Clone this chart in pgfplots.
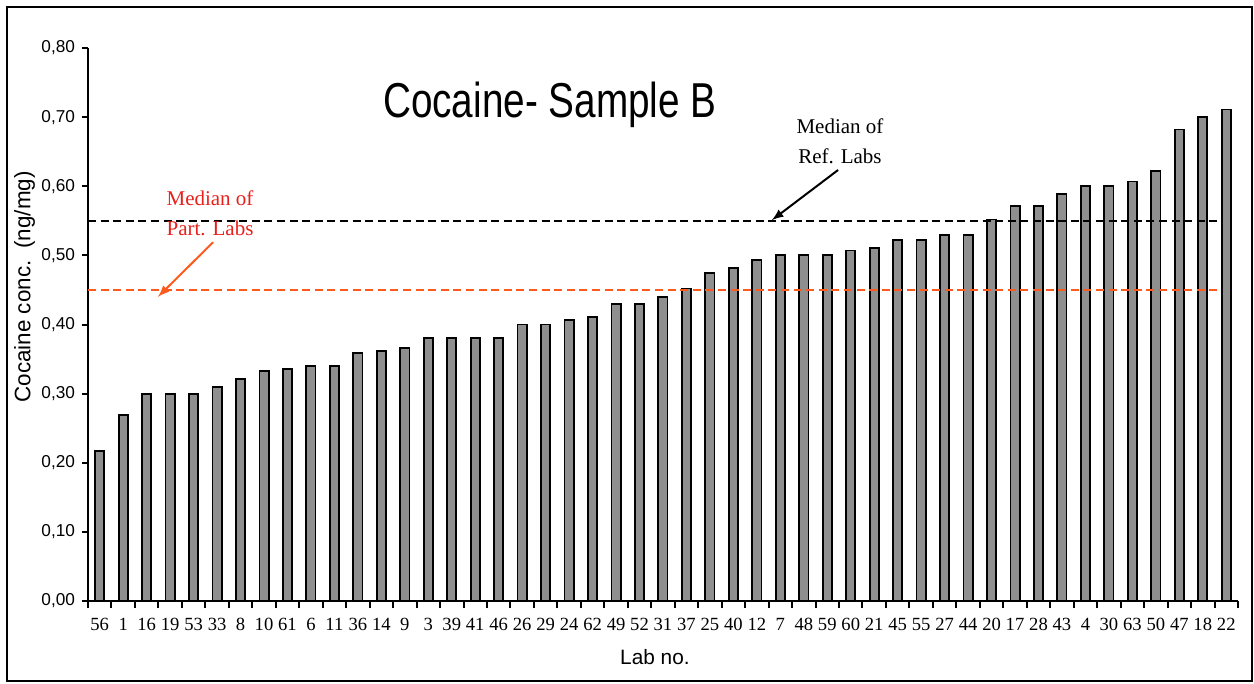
\documentclass[border=0pt]{standalone}
\usepackage{fontspec}
\setmainfont{Liberation Sans}
\newfontfamily\tnr{Liberation Serif}
\usepackage{pgfplots}
\usepackage{pgfplotstable}
\pgfplotsset{compat=1.18}
\definecolor{barfill}{HTML}{8F8F8F}
\definecolor{partorange}{HTML}{FF5A1E}
\definecolor{partred}{HTML}{E8201C}

% cocaine, sample B, sorted by concentration
\pgfplotstableread{
idx lab conc
0 56 0.217
1 1 0.269
2 16 0.300
3 19 0.300
4 53 0.300
5 33 0.310
6 8 0.321
7 10 0.333
8 61 0.336
9 6 0.340
10 11 0.340
11 36 0.359
12 14 0.362
13 9 0.366
14 3 0.380
15 39 0.380
16 41 0.380
17 46 0.380
18 26 0.400
19 29 0.400
20 24 0.407
21 62 0.411
22 49 0.430
23 52 0.430
24 31 0.440
25 37 0.452
26 25 0.474
27 40 0.482
28 12 0.493
29 7 0.500
30 48 0.500
31 59 0.500
32 60 0.507
33 21 0.511
34 45 0.522
35 55 0.522
36 27 0.529
37 44 0.529
38 20 0.552
39 17 0.571
40 28 0.571
41 43 0.589
42 4 0.600
43 30 0.600
44 63 0.607
45 50 0.622
46 47 0.682
47 18 0.700
48 22 0.711
}\cocaine

\begin{document}
\begin{tikzpicture}
\path (-44pt,-41.5pt) rectangle (583pt,300.5pt);
\draw[line width=0.75pt] (-40.5pt,-40pt) rectangle (582pt,297pt);
\begin{axis}[
  at={(0,0)},anchor=south west,
  scale only axis,width=575pt,height=276.5pt,
  xmin=-0.5,xmax=48.5,ymin=0,ymax=0.8,
  axis lines=left,
  axis line style={-,line width=1pt},
  tick align=outside,
  tick style={line width=1pt,black},
  major tick length=3pt,
  minor tick length=3.5pt,
  xtick={0,...,48},
  xticklabels from table={\cocaine}{lab},
  major x tick style={draw=none},
  minor xtick={-0.5,0.5,...,48.5},
  ytick={0,0.1,...,0.8},
  yticklabel style={font=\fontsize{8.6}{10}\selectfont,
    /pgf/number format/fixed,/pgf/number format/fixed zerofill,
    /pgf/number format/precision=2,/pgf/number format/use comma,
    /pgf/number format/assume math mode=true},
  xticklabel style={font=\tnr\fontsize{9.3}{10}\selectfont,yshift=-2pt},
  xlabel={Lab no.},
  ylabel={Cocaine conc.\hspace{6pt}(ng/mg)},
  xlabel style={font=\fontsize{10.4}{12}\selectfont,at={(axis description cs:0.493,-0.101)},anchor=center},
  ylabel style={font=\fontsize{11.2}{13}\selectfont,at={(axis description cs:-0.0552,0.568)},anchor=center},
  clip=false,
]
\addplot[ybar,bar width=4.6pt,fill=barfill,draw=black,line width=0.9pt] table[x=idx,y=conc]{\cocaine};
\addplot[black,line width=1.1pt,dash pattern=on 4pt off 2.3pt] coordinates {(-0.5,0.55) (47.6,0.55)};
\addplot[partorange,line width=1.1pt,dash pattern=on 4pt off 2.3pt] coordinates {(-0.5,0.45) (47.6,0.45)};
\node[font=\fontsize{24.5}{28}\selectfont] at (axis cs:19.18,0.7175) {\scalebox{0.79}[1]{Cocaine- Sample B}};
\node[font=\tnr\fontsize{10.5}{15}\selectfont,align=center] at (axis cs:31.54,0.6655) {Median of\\Ref. Labs};
\draw[-latex,line width=1pt] (axis cs:31.46,0.6235) -- (axis cs:28.64,0.551);
\node[font=\tnr\fontsize{10.5}{15}\selectfont,align=center,text=partred] at (axis cs:4.70,0.561) {Median of\\Part. Labs};
\draw[-latex,line width=1pt,partorange] (axis cs:4.83,0.519) -- (axis cs:2.48,0.44);
\end{axis}
\end{tikzpicture}
\end{document}
